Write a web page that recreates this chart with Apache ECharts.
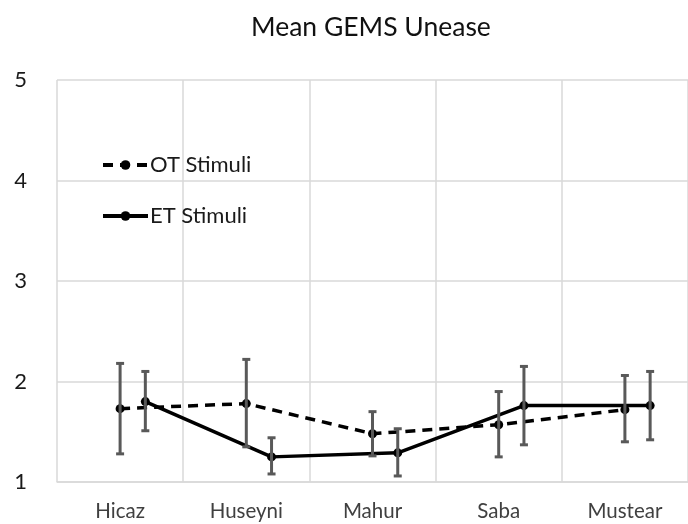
<!DOCTYPE html>
<html>
<head>
<meta charset="utf-8">
<script src="https://cdn.jsdelivr.net/npm/echarts@6/dist/echarts.min.js"></script>
<style>
  html, body { margin: 0; padding: 0; background: #fff; }
  #chart { width: 688px; height: 524px; }
</style>
</head>
<body>
<div id="chart"></div>
<script>
// values
const categories = ['Hicaz', 'Huseyni', 'Mahur', 'Saba', 'Mustear'];
const otMean = [1.73, 1.78, 1.48, 1.57, 1.72];
const otLow  = [1.28, 1.35, 1.26, 1.25, 1.40];
const otHigh = [2.18, 2.22, 1.70, 1.90, 2.06];
const etMean = [1.80, 1.25, 1.29, 1.76, 1.76];
const etLow  = [1.51, 1.08, 1.06, 1.37, 1.42];
const etHigh = [2.10, 1.44, 1.53, 2.15, 2.10];
const yTicks = [1, 2, 3, 4, 5];

// ET points sit a bit to the right of the category centre
const otShift = 0;
const etShift = 0.2;

const pts = (means, shift) => means.map((v, i) => [i + shift, v]);
const bars = (lo, hi, shift) => lo.map((v, i) => [i + shift, v, hi[i]]);

function renderErrorBar(params, api) {
  const x = api.value(0);
  const top = api.coord([x, api.value(2)]);
  const bot = api.coord([x, api.value(1)]);
  const cap = 4;
  const style = { stroke: '#595959', lineWidth: 3 };
  return {
    type: 'group',
    children: [
      { type: 'line', shape: { x1: top[0], y1: top[1], x2: bot[0], y2: bot[1] }, style: style },
      { type: 'line', shape: { x1: top[0] - cap, y1: top[1], x2: top[0] + cap, y2: top[1] }, style: style },
      { type: 'line', shape: { x1: bot[0] - cap, y1: bot[1], x2: bot[0] + cap, y2: bot[1] }, style: style }
    ]
  };
}

const chart = echarts.init(document.getElementById('chart'));
chart.setOption({
  animation: false,
  title: {
    text: 'Mean GEMS Unease',
    left: 246,
    top: 9,
    textStyle: { fontFamily: 'Lato', fontSize: 26.5, fontWeight: 'normal', color: '#111' }
  },
  legend: {
    orient: 'vertical',
    left: 96,
    top: 149,
    itemGap: 29,
    itemWidth: 45,
    itemHeight: 12,
    data: ['OT Stimuli', 'ET Stimuli'],
    lineStyle: { width: 4 },
    textStyle: { fontFamily: 'Lato', fontSize: 22, color: '#1a1a1a', padding: [0, 0, 0, -3] }
  },
  grid: { left: 57, top: 80, width: 640, height: 402 },
  xAxis: [
    {
      type: 'category',
      data: categories,
      boundaryGap: true,
      axisLine: { lineStyle: { color: '#d9d9d9', width: 1.5 } },
      axisTick: { show: false },
      splitLine: { show: true, lineStyle: { color: '#d9d9d9', width: 1.5 } },
      axisLabel: { fontFamily: 'Lato', fontSize: 20.5, color: '#404040', margin: 19 }
    },
    {
      type: 'value',
      min: -0.5,
      max: 4.5,
      show: false
    }
  ],
  yAxis: {
    type: 'value',
    min: yTicks[0],
    max: yTicks[yTicks.length - 1],
    interval: 1,
    axisLine: { show: false },
    axisTick: { show: false },
    splitLine: { lineStyle: { color: '#d9d9d9', width: 1.5 } },
    axisLabel: { fontFamily: 'Lato', fontSize: 22, color: '#1a1a1a', margin: 30 }
  },
  series: [
    {
      name: 'OT Stimuli',
      type: 'line',
      xAxisIndex: 1,
      data: pts(otMean, otShift),
      symbol: 'circle',
      symbolSize: 9,
      itemStyle: { color: '#000' },
      lineStyle: { color: '#000', width: 3.5, type: [10, 7] },
      z: 3
    },
    {
      name: 'ET Stimuli',
      type: 'line',
      xAxisIndex: 1,
      data: pts(etMean, etShift),
      symbol: 'circle',
      symbolSize: 9,
      itemStyle: { color: '#000' },
      lineStyle: { color: '#000', width: 3.5 },
      z: 3
    },
    {
      type: 'custom',
      xAxisIndex: 1,
      renderItem: renderErrorBar,
      data: bars(otLow, otHigh, otShift),
      encode: { x: 0, y: [1, 2] },
      z: 4
    },
    {
      type: 'custom',
      xAxisIndex: 1,
      renderItem: renderErrorBar,
      data: bars(etLow, etHigh, etShift),
      encode: { x: 0, y: [1, 2] },
      z: 4
    }
  ]
});
</script>
</body>
</html>
